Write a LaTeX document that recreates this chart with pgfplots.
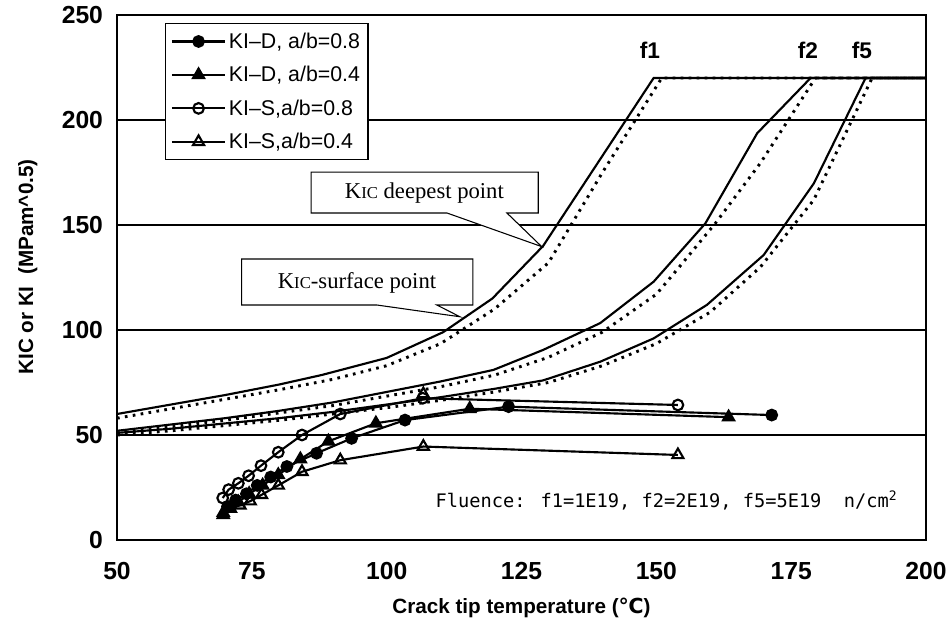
\documentclass[border=0pt]{standalone}
\usepackage{fontspec}
\setmainfont{Liberation Sans}
\newfontfamily\seriffont{Liberation Serif}
\newfontfamily\monofont{DejaVu Sans Mono}
\newfontfamily\dejavu{DejaVu Sans}
\usepackage{pgfplots}
\pgfplotsset{compat=1.18}
\usetikzlibrary{calc}

\begin{document}
\begin{tikzpicture}
\begin{axis}[
  at={(87.75pt,75pt)}, anchor=south west,
  scale only axis, width=606.75pt, height=393.75pt,
  xmin=50, xmax=200, ymin=0, ymax=250,
  xtick={50,75,...,200}, ytick={0,50,...,250},
  ymajorgrids, major grid style={black, line width=0.8pt},
  major tick length=0pt,
  axis line style={line width=2pt},
  tick label style={font=\bfseries\fontsize{18.5}{21}\selectfont},
  /pgf/number format/assume math mode=true,
  yticklabel style={xshift=-7pt},
  xticklabel style={yshift=-13pt},
  xlabel={Crack tip temperature ({\dejavu\bfseries ℃})},
  xlabel style={font=\bfseries\fontsize{15.5}{18}\selectfont, at={(rel axis cs:0.5,0)}, anchor=center, yshift=-51pt},
  ylabel={KIC or KI~~(MPam\textasciicircum0.5)},
  ylabel style={font=\bfseries\fontsize{15.5}{18}\selectfont, at={($(rel axis cs:0,0.52)+(-67pt,0)$)}, anchor=center},
  legend style={at={(rel axis cs:0.0593,0.985)}, anchor=north west, draw=black, line width=0.8pt,
    font=\fontsize{16}{18}\selectfont, row sep=8pt, inner xsep=4pt, inner ysep=5pt},
  legend cell align=left,
  legend image code/.code={\draw[mark repeat=2,mark phase=2,#1] plot coordinates {(0pt,0pt) (20pt,0pt) (40pt,0pt)};},
  clip=false
]
% KIC curves f1
\addplot[black, line width=1.6pt, forget plot] coordinates {
(50,60) (60,64.5) (70,69) (80,74) (88,78.6) (100,86.7) (110.5,99) (119.6,115) (129,140) (149.5,220) (200,220)};
\addplot[black, line width=2.2pt, dash pattern=on 2pt off 4pt, forget plot] coordinates {
(50,58) (60,62.5) (70,67) (80,71.5) (90,76.5) (100,83) (110,93.5) (120,110) (130,132) (140,175) (151,220) (200,220)};
% f2
\addplot[black, line width=1.6pt, forget plot] coordinates {
(50,52) (60,55) (70,58) (80,61.5) (90,65.5) (100,70.5) (110,75.5) (119.8,81) (129,90.5) (139.6,103.3) (149.5,123) (159.1,150.8) (168.7,193.7) (178.6,220) (200,220)};
\addplot[black, line width=2.2pt, dash pattern=on 2pt off 4pt, forget plot] coordinates {
(50,51) (60,54) (70,57) (80,60.5) (90,64) (100,68.5) (110,73) (120,78.5) (130,87) (140,99) (150,117) (153.8,128.6) (161,151) (169.3,179.5) (179.5,220) (200,220)};
% f5
\addplot[black, line width=1.6pt, forget plot] coordinates {
(50,51) (60,53) (70,55.5) (80,58) (90,61) (100,64.5) (110,68) (120,72) (129,76) (139.6,84.9) (149.5,96) (159.4,112) (169.9,135.7) (179.2,169.8) (188.8,220) (200,220)};
\addplot[black, line width=2.2pt, dash pattern=on 2pt off 4pt, forget plot] coordinates {
(50,50) (60,52) (70,54.5) (80,57) (90,60) (100,63) (110,66.5) (120,70.5) (130,75) (140,83) (150,93.5) (160,108.5) (169.3,130) (179.2,162) (190,220) (200,220)};

% KI data
\addplot[black, line width=1.6pt, mark=*, mark size=4pt, mark options={solid, fill=black}] coordinates {
(70.5,16) (72,19) (74,22) (76,26) (78.5,30) (81.5,35) (87,41.3) (93.5,48.4) (103.4,57.1) (122.6,63.5) (171.4,59.5)};
\addlegendentry{KI--D, a/b=0.8}
\addplot[black, line width=1.6pt, mark=triangle*, mark size=4.8pt, mark options={solid, fill=black}] coordinates {
(69.7,12) (71,15) (72.5,18) (74.5,22) (77,26) (79.9,31) (84,38.5) (89.2,47) (98,55.6) (115.4,62.5) (163.4,58.5)};
\addlegendentry{KI--D, a/b=0.4}
\addplot[black, line width=1.6pt, mark=o, mark size=4pt, mark options={solid, fill=white, line width=1.6pt}] coordinates {
(69.6,20) (70.7,24) (72.5,27) (74.4,30.6) (76.7,35.4) (79.9,41.8) (84.3,50) (91.4,60) (106.7,67.5) (154,64.3)};
\addlegendentry{KI--S,a/b=0.8}
\addplot[black, line width=1.6pt, mark=triangle, mark size=4.8pt, mark options={solid, fill=white, line width=1.6pt}] coordinates {
(69.7,13) (71,15) (72.8,16.5) (74.7,18.5) (76.8,21.5) (79.9,26) (84.3,32.5) (91.4,38) (106.8,44.5) (154,40.5)};
\addlegendentry{KI--S,a/b=0.4}
\addplot[only marks, black, mark=triangle, mark size=4.8pt, mark options={solid, fill=white, line width=1.6pt}, forget plot] coordinates {(106.8,69.5)};

% callouts
\draw[black, line width=0.8pt, fill=white] (axis cs:86,175.2) -- (axis cs:128.1,175.2) -- (axis cs:128.1,155.7) -- (axis cs:122.3,155.7) -- (axis cs:128.75,139.7) -- (axis cs:111.2,155.7) -- (axis cs:86,155.7) -- cycle;
\node[font=\seriffont\fontsize{17}{19}\selectfont] at (axis cs:107,165.4) {K{\fontsize{12.5}{13}\selectfont IC} deepest point};
\draw[black, line width=0.8pt, fill=white] (axis cs:73.1,133.8) -- (axis cs:116,133.8) -- (axis cs:116,111.9) -- (axis cs:109.3,111.9) -- (axis cs:113.6,106.3) -- (axis cs:98.2,111.9) -- (axis cs:73.1,111.9) -- cycle;
\node[font=\seriffont\fontsize{17}{19}\selectfont] at (axis cs:94.5,122.5) {K{\fontsize{12.5}{13}\selectfont IC}-surface point};

\node[font=\bfseries\fontsize{17}{19}\selectfont] at (axis cs:148.8,233) {f1};
\node[font=\bfseries\fontsize{17}{19}\selectfont] at (axis cs:178.1,233) {f2};
\node[font=\bfseries\fontsize{17}{19}\selectfont] at (axis cs:188.1,233) {f5};
\node[font=\monofont\fontsize{14}{16}\selectfont] at (axis cs:151.9,19) {Fluence: f1=1E19, f2=2E19, f5=5E19~~n/cm\textsuperscript{2}};
\end{axis}
\pgfresetboundingbox
\path[use as bounding box] (0,0) rectangle (709.5pt,480pt);
\end{tikzpicture}
\end{document}
